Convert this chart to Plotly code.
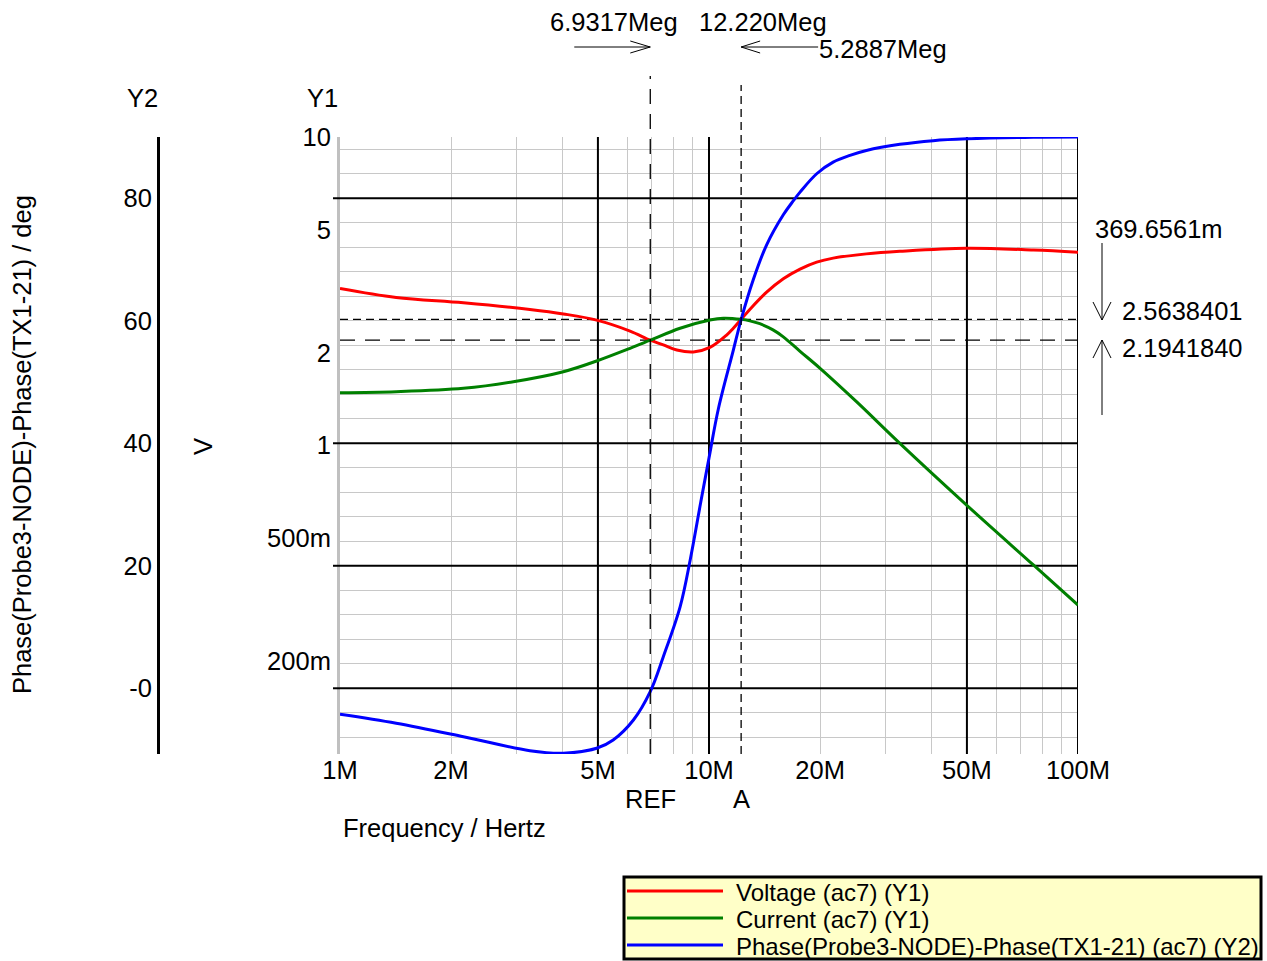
import plotly.graph_objects as go

# ---------------- data ----------------
volt_freq_mhz = [1.0, 1.42, 2.16, 3.27, 4.03, 4.96, 6.11, 6.93, 7.52, 8.18, 9.07, 10.06,
                 11.16, 11.64, 12.22, 12.9, 14.33, 15.9, 17.65, 19.58, 21.7, 26.7, 32.9,
                 49.9, 75.7, 100.0]
volt_v = [3.23, 3.02, 2.90, 2.76, 2.67, 2.55, 2.35, 2.194, 2.12, 2.04, 2.01, 2.08,
          2.28, 2.40, 2.564, 2.76, 3.14, 3.47, 3.73, 3.93, 4.05, 4.18, 4.26,
          4.36, 4.30, 4.23]

curr_freq_mhz = [1.0, 1.42, 2.16, 2.95, 4.03, 4.96, 6.11, 6.93, 8.35, 10.06, 10.94, 12.22,
                 12.9, 13.73, 14.91, 15.9, 17.65, 20.0, 25.1, 32.9, 49.9, 75.7, 100.0]
curr_v = [1.483, 1.494, 1.532, 1.610, 1.735, 1.879, 2.066, 2.194, 2.399, 2.55, 2.585, 2.564,
          2.535, 2.482, 2.370, 2.250, 2.02, 1.779, 1.387, 1.016, 0.641, 0.410, 0.304]

phase_freq_mhz = [1.0, 1.42, 2.16, 3.27, 4.03, 4.96, 5.50, 6.24, 6.93, 7.52, 8.35, 8.89, 9.5,
                  10.0, 10.6, 11.64, 12.22, 13.18, 14.33, 15.9, 16.93, 17.65, 19.58, 21.7,
                  24.1, 26.7, 32.9, 40.5, 49.9, 75.7, 100.0]
phase_deg = [-4.24, -5.71, -7.90, -10.19, -10.6, -9.80, -8.44, -5.18, -0.55, 5.16, 13.3, 20.9, 30.4,
             37.6, 45.6, 55.2, 60.2, 66.7, 72.4, 77.3, 79.6, 81.0, 84.0, 85.9,
             87.0, 87.8, 88.8, 89.4, 89.7, 89.96, 90.0]

x_tickvals = [1e6, 2e6, 5e6, 1e7, 2e7, 5e7, 1e8]
x_ticktext = ["1M", "2M", "5M", "10M", "20M", "50M", "100M"]
x_minor_grid = [2e6, 3e6, 4e6, 6e6, 7e6, 8e6, 9e6, 2e7, 3e7, 4e7, 6e7, 7e7, 8e7, 9e7]
x_major_grid = [5e6, 1e7, 5e7, 1e8]

y1_tickvals = [10, 5, 2, 1, 0.5, 0.2]
y1_ticktext = ["10", "5", "2", "1", "500m", "200m"]

y2_tickvals = [0, 20, 40, 60, 80]
y2_ticktext = ["-0", "20", "40", "60", "80"]
y2_major_grid = [0, 20, 40, 80]

ref_freq = 6.9317e6
a_freq = 12.220e6
ref_level = 2.1941840
a_level = 2.5638401

series_names = ["Voltage (ac7) (Y1)", "Current (ac7) (Y1)",
                "Phase(Probe3-NODE)-Phase(TX1-21) (ac7) (Y2)"]
series_colors = ["#ff0000", "#008000", "#0000ff"]

# ---------------- layout geometry ----------------
W, H = 1267, 961
ML, MR, MT, MB = 100, 189, 137, 207
PW, PH = W - ML - MR, H - MT - MB


def px(X):
    return (X - ML) / PW


def py(Y):
    return (H - MB - Y) / PH


X0 = px(340)
Y2_MIN, Y2_MAX = -10.73, 90.0
FONT = "Liberation Sans, Arial, sans-serif"
FS = 25.5


def hz(lst):
    return [v * 1e6 for v in lst]


fig = go.Figure()

# cursor horizontal lines (Y1 levels)
fig.add_trace(go.Scatter(x=[1e6, 1e8], y=[a_level, a_level], yaxis="y2", mode="lines",
                         line=dict(color="black", width=1.3, dash="8px,5px"),
                         showlegend=False, hoverinfo="skip"))
fig.add_trace(go.Scatter(x=[1e6, 1e8], y=[ref_level, ref_level], yaxis="y2", mode="lines",
                         line=dict(color="black", width=1.3, dash="15px,10px"),
                         showlegend=False, hoverinfo="skip"))

fig.add_trace(go.Scatter(x=hz(volt_freq_mhz), y=volt_v, yaxis="y2", mode="lines",
                         name=series_names[0],
                         line=dict(color=series_colors[0], width=3, shape="spline", smoothing=1.0),
                         showlegend=False))
fig.add_trace(go.Scatter(x=hz(curr_freq_mhz), y=curr_v, yaxis="y2", mode="lines",
                         name=series_names[1],
                         line=dict(color=series_colors[1], width=3, shape="spline", smoothing=1.0),
                         showlegend=False))
fig.add_trace(go.Scatter(x=hz(phase_freq_mhz), y=phase_deg, yaxis="y3", mode="lines",
                         name=series_names[2],
                         line=dict(color=series_colors[2], width=3, shape="spline", smoothing=1.0),
                         showlegend=False))

shapes = []
# black major grid lines
for f in x_major_grid:
    shapes.append(dict(type="line", xref="x", yref="y", x0=f, x1=f, y0=Y2_MIN, y1=Y2_MAX,
                       line=dict(color="black", width=2), layer="between"))
for d in y2_major_grid:
    shapes.append(dict(type="line", xref="x", yref="y", x0=1e6, x1=1e8, y0=d, y1=d,
                       line=dict(color="black", width=2), layer="between"))
    shapes.append(dict(type="line", xref="paper", yref="y", x0=px(333), x1=X0, y0=d, y1=d,
                       line=dict(color="black", width=2)))

# vertical cursors
shapes.append(dict(type="line", xref="x", yref="paper", x0=ref_freq, x1=ref_freq,
                   y0=0, y1=py(76), line=dict(color="black", width=1.3, dash="15px,10px"),
                   layer="above"))
shapes.append(dict(type="line", xref="x", yref="paper", x0=a_freq, x1=a_freq,
                   y0=0, y1=py(85), line=dict(color="black", width=1.3, dash="8px,5px"),
                   layer="above"))

# top arrows
shapes.append(dict(type="path", xref="x", yref="paper", xsizemode="pixel", xanchor=ref_freq,
                   path=f"M -76 {py(47)} L 0 {py(47)} M -20 {py(41)} L 0 {py(47)} L -20 {py(53)}",
                   line=dict(color="black", width=1), layer="above"))
shapes.append(dict(type="path", xref="x", yref="paper", xsizemode="pixel", xanchor=a_freq,
                   path=f"M 0 {py(47)} L 77 {py(47)} M 19 {py(41)} L 0 {py(47)} L 19 {py(53)}",
                   line=dict(color="black", width=1), layer="above"))

# right side arrows
shapes.append(dict(type="path", xref="paper", yref="paper",
                   path=(f"M {px(1102)} {py(243)} L {px(1102)} {py(320)} "
                         f"M {px(1093)} {py(302)} L {px(1102)} {py(320)} L {px(1111)} {py(302)}"),
                   line=dict(color="black", width=1)))
shapes.append(dict(type="path", xref="paper", yref="paper",
                   path=(f"M {px(1102)} {py(415)} L {px(1102)} {py(340)} "
                         f"M {px(1093)} {py(358)} L {px(1102)} {py(340)} L {px(1111)} {py(358)}"),
                   line=dict(color="black", width=1)))

# custom legend box
shapes.append(dict(type="rect", xref="paper", yref="paper", x0=px(624), x1=px(1261),
                   y0=py(959), y1=py(877), fillcolor="#ffffc8",
                   line=dict(color="black", width=3)))
legend_rows = [891, 918, 945]
for name, col, ry in zip(series_names, series_colors, legend_rows):
    shapes.append(dict(type="line", xref="paper", yref="paper", x0=px(627), x1=px(723),
                       y0=py(ry), y1=py(ry), line=dict(color=col, width=3)))

annotations = []


def txt(s, X, Y, xanchor="center", size=FS, angle=0):
    annotations.append(dict(text=s, xref="paper", yref="paper", x=px(X), y=py(Y),
                            xanchor=xanchor, yanchor="middle", showarrow=False,
                            textangle=angle, font=dict(family=FONT, size=size, color="black")))


txt("6.9317Meg", 613.5, 21.5)
txt("12.220Meg", 763, 21.5)
txt("5.2887Meg", 817, 48.5, xanchor="left")
txt("369.6561m", 1093, 229, xanchor="left")
txt("2.5638401", 1120, 311, xanchor="left")
txt("2.1941840", 1120, 347.5, xanchor="left")
txt("Y2", 142.5, 98)
txt("Y1", 322.5, 98)
txt("V", 203, 447, angle=-90)
txt("Phase(Probe3-NODE)-Phase(TX1-21) / deg", 22, 445, angle=-90)
txt("REF", 650, 799)
txt("A", 741, 799)
txt("Frequency / Hertz", 341, 828, xanchor="left")
for name, ry in zip(series_names, legend_rows):
    txt(name, 734, ry + 1, xanchor="left", size=24)

tickfont = dict(family=FONT, size=FS, color="black")

fig.update_layout(
    width=W, height=H,
    margin=dict(l=ML, r=MR, t=MT, b=MB, pad=0),
    paper_bgcolor="white", plot_bgcolor="white",
    showlegend=False,
    xaxis=dict(type="log", range=[6, 8], domain=[X0, 1], anchor="y",
               tickmode="array", tickvals=x_tickvals, ticktext=x_ticktext,
               ticks="", showgrid=False, zeroline=False, showline=False,
               minor=dict(tickmode="array", tickvals=x_minor_grid, showgrid=True,
                          gridcolor="#c8c8c8", gridwidth=1, ticks=""),
               tickfont=tickfont, automargin=False, ticklabelstandoff=-2),
    yaxis=dict(range=[Y2_MIN, Y2_MAX], anchor="free", position=px(158), side="left",
               tickmode="array", tickvals=y2_tickvals, ticktext=y2_ticktext,
               ticks="", showline=True, linecolor="black", linewidth=3,
               showgrid=False, zeroline=False,
               minor=dict(tickmode="linear", tick0=0, dtick=4, showgrid=True,
                          gridcolor="#c8c8c8", gridwidth=1, ticks=""),
               tickfont=tickfont, automargin=False, ticklabelstandoff=0),
    yaxis2=dict(type="log", range=[-1, 1], overlaying="y", anchor="x", side="left",
                tickmode="array", tickvals=y1_tickvals, ticktext=y1_ticktext,
                ticks="", showline=True, linecolor="#c0c0c0", linewidth=3,
                showgrid=False, zeroline=False,
                tickfont=tickfont, automargin=False, ticklabelstandoff=1),
    yaxis3=dict(range=[Y2_MIN, Y2_MAX], overlaying="y", anchor="x", visible=False),
    shapes=shapes,
    annotations=annotations,
)

fig.write_html("out.html", config={"displayModeBar": False},
               post_script="document.body.style.margin='0px';")
